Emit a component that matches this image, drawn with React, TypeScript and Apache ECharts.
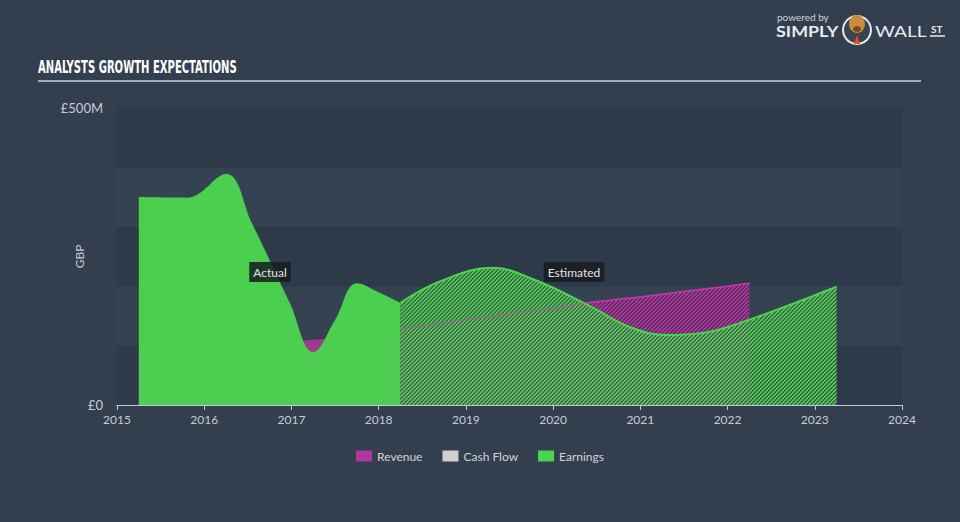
import React, { useEffect, useRef } from "react";
import * as echarts from "echarts";

const xTicks = [2015, 2016, 2017, 2018, 2019, 2020, 2021, 2022, 2023, 2024];

const earningsActual: [number, number][] = [
  [2015.25, 350], [2015.8, 349], [2016.25, 389], [2016.55, 305],
  [2016.98, 172], [2017.25, 89], [2017.5, 143], [2017.75, 205], [2018.0, 190],
  [2018.25, 172],
];
const earningsEstimated: [number, number][] = [
  [2018.25, 172], [2018.7, 208], [2019.3, 231], [2019.8, 210], [2020.4, 168],
  [2020.9, 130], [2021.3, 118], [2021.7, 121], [2022.2, 141], [2023.25, 199],
];
const revenueActual: [number, number][] = [
  [2015.25, 89], [2016.0, 95], [2016.5, 101], [2017.0, 107], [2017.25, 110],
  [2017.5, 113], [2018.0, 122], [2018.25, 128],
];
const revenueEstimated: [number, number][] = [
  [2018.25, 128], [2019.0, 144], [2020.0, 163], [2020.4, 172], [2021.0, 182],
  [2022.0, 200], [2022.25, 205],
];
const cashFlow: [number, number][] = [];

const legendNames = ["Revenue", "Cash Flow", "Earnings"];

const GREEN = "#4cd44e";
const MAGENTA = "#b0359d";
const GREY = "#d0d0d0";

function hatch(stripe: string, bg: string) {
  const c = document.createElement("canvas");
  c.width = 4;
  c.height = 4;
  const ctx = c.getContext("2d")!;
  ctx.fillStyle = bg;
  ctx.fillRect(0, 0, 4, 4);
  ctx.fillStyle = stripe;
  for (let x = 0; x < 4; x++) {
    for (let y = 0; y < 4; y++) {
      const m = (x + y) % 4;
      if (m === 0 || m === 1) ctx.fillRect(x, y, 1, 1);
    }
  }
  return c;
}

export default function App() {
  const ref = useRef<HTMLDivElement>(null);
  useEffect(() => {
    document.body.style.margin = "0";
    document.body.style.background = "#333f4f";
    const chart = echarts.init(ref.current!, null, { renderer: "svg" });
    const greenHatch = hatch(GREEN, "rgba(70,120,80,0.75)");
    const magHatch = hatch(MAGENTA, "rgba(110,40,105,0.7)");
    const font = "Lato, 'Open Sans', sans-serif";
    chart.setOption({
      animation: false,
      backgroundColor: "#333f4f",
      textStyle: { fontFamily: font },
      grid: { left: 117, right: 58, top: 108, bottom: 117 },
      xAxis: {
        type: "value",
        min: 2015,
        max: 2024,
        interval: 1,
        axisLine: { lineStyle: { color: "#c8ccd2", width: 1 } },
        axisTick: { show: true, length: 5, lineStyle: { color: "#c8ccd2" } },
        axisLabel: {
          color: "#c8ccd2",
          fontSize: 12,
          margin: 8,
          formatter: (v: number) => (xTicks.includes(v) ? String(v) : ""),
        },
        splitLine: { show: false },
      },
      yAxis: {
        type: "value",
        min: 0,
        max: 500,
        interval: 100,
        name: "GBP",
        nameLocation: "middle",
        nameGap: 32,
        nameMoveOverlap: false,
        nameTextStyle: { color: "#c8ccd2", fontSize: 12 },
        axisLine: { show: false },
        axisTick: { show: false },
        axisLabel: {
          color: "#c8ccd2",
          fontSize: 13,
          margin: 14,
          formatter: (v: number) => (v === 500 ? "£500M" : v === 0 ? "£0" : ""),
        },
        splitLine: { show: false },
        splitArea: { show: true, areaStyle: { color: ["#2e3a4a", "#354252"] } },
      },
      legend: {
        data: legendNames,
        bottom: 55,
        left: "center",
        icon: "rect",
        itemWidth: 16,
        itemHeight: 11,
        itemGap: 20,
        textStyle: { color: "#d0d4d9", fontSize: 12, fontFamily: font },
      },
      graphic: [
        {
          type: "text",
          x: 38,
          y: 58,
          scaleX: 0.62,
          style: {
            text: "ANALYSTS GROWTH EXPECTATIONS",
            fill: "#ffffff",
            font: "bold 18px 'DejaVu Sans Condensed', 'DejaVu Sans', sans-serif",
          },
        },
        {
          type: "line",
          shape: { x1: 38, y1: 81, x2: 921, y2: 81 },
          style: { stroke: "#a3abb5", lineWidth: 2 },
        },
        {
          type: "text",
          x: 270,
          y: 272,
          style: {
            text: "Actual",
            fill: "#e2e4e6",
            font: `12px ${font}`,
            align: "center",
            verticalAlign: "middle",
            backgroundColor: "rgba(22,28,32,0.85)",
            padding: [4, 4],
          },
          z: 100,
        },
        {
          type: "text",
          x: 574,
          y: 272,
          style: {
            text: "Estimated",
            fill: "#e2e4e6",
            font: `12px ${font}`,
            align: "center",
            verticalAlign: "middle",
            backgroundColor: "rgba(22,28,32,0.85)",
            padding: [4, 4],
          },
          z: 100,
        },
        {
          type: "text",
          x: 777,
          y: 12,
          style: { text: "powered by", fill: "#cdd2d8", font: `10px ${font}` },
        },
        {
          type: "text",
          x: 776,
          y: 23,
          scaleX: 1.12,
          style: { text: "SIMPLY", fill: "#e8eaec", font: `bold 16px ${font}` },
        },
        { type: "circle", shape: { cx: 857, cy: 30, r: 15 }, style: { fill: "#e8eaec" } },
        { type: "circle", shape: { cx: 857, cy: 30, r: 13 }, style: { fill: "#3a4350" } },
        { type: "ellipse", shape: { cx: 857, cy: 24, rx: 8, ry: 9 }, style: { fill: "#c98b3c" } },
        { type: "ellipse", shape: { cx: 857, cy: 29, rx: 4, ry: 3 }, style: { fill: "#7a4a1e" } },
        {
          type: "polygon",
          shape: { points: [[850, 14], [847, 8], [852, 17]] },
          style: { fill: "#2a2a2a" },
        },
        {
          type: "polygon",
          shape: { points: [[864, 14], [867, 8], [862, 17]] },
          style: { fill: "#2a2a2a" },
        },
        {
          type: "polygon",
          shape: { points: [[857, 35], [854, 44], [860, 44]] },
          style: { fill: "#e0502a" },
        },
        {
          type: "text",
          x: 875,
          y: 23,
          scaleX: 1.2,
          style: { text: "WALL", fill: "#e8eaec", font: `16px ${font}` },
        },
        {
          type: "text",
          x: 931,
          y: 24,
          style: { text: "ST", fill: "#e8eaec", font: `bold 10px ${font}` },
        },
        {
          type: "line",
          shape: { x1: 930, y1: 36, x2: 945, y2: 36 },
          style: { stroke: "#e8eaec", lineWidth: 1.5 },
        },
      ],
      series: [
        {
          name: "Revenue",
          type: "line",
          data: revenueActual,
          smooth: 0.3,
          symbol: "none",
          itemStyle: { color: MAGENTA },
          lineStyle: { width: 0, color: MAGENTA },
          areaStyle: { color: "#9d3a8f", opacity: 1 },
          z: 1,
        },
        {
          name: "Revenue",
          type: "line",
          data: revenueEstimated,
          smooth: 0.2,
          symbol: "none",
          itemStyle: { color: MAGENTA },
          lineStyle: { width: 1.5, color: "#c23aab" },
          areaStyle: { color: { image: magHatch, repeat: "repeat" }, opacity: 1 },
          z: 1,
        },
        {
          name: "Cash Flow",
          type: "line",
          data: cashFlow,
          symbol: "none",
          itemStyle: { color: GREY },
          lineStyle: { color: GREY },
        },
        {
          name: "Earnings",
          type: "line",
          data: earningsActual,
          smooth: 0.4,
          symbol: "none",
          itemStyle: { color: GREEN },
          lineStyle: { width: 0, color: GREEN },
          areaStyle: { color: GREEN, opacity: 0.97 },
          z: 2,
        },
        {
          name: "Earnings",
          type: "line",
          data: earningsEstimated,
          smooth: 0.4,
          symbol: "none",
          itemStyle: { color: GREEN },
          lineStyle: { width: 2, color: GREEN },
          areaStyle: { color: { image: greenHatch, repeat: "repeat" }, opacity: 0.95 },
          z: 2,
        },
        {
          name: "Revenue",
          type: "line",
          data: revenueEstimated,
          smooth: 0.2,
          symbol: "none",
          itemStyle: { color: MAGENTA },
          lineStyle: { width: 1.5, color: "#c23aab", opacity: 0.45 },
          z: 3,
          silent: true,
        },
      ],
    });
    return () => chart.dispose();
  }, []);
  return <div ref={ref} style={{ width: 960, height: 522 }} />;
}
